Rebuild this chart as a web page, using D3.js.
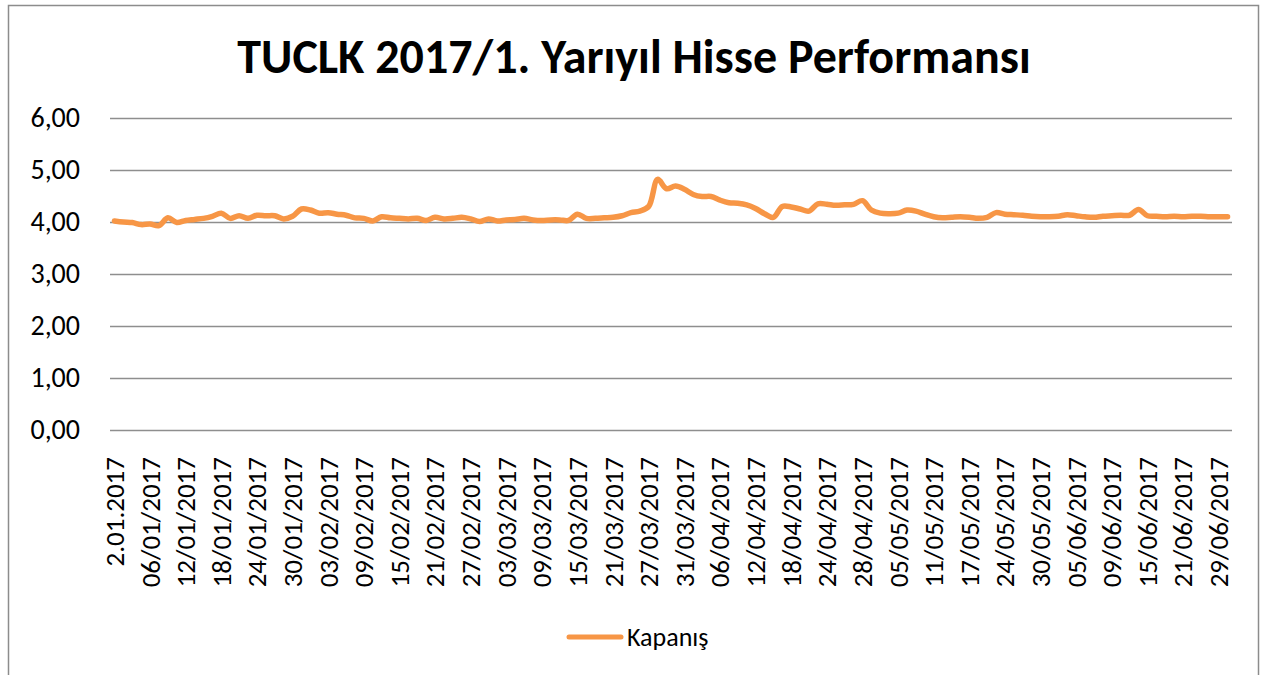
<!DOCTYPE html>
<html>
<head>
<meta charset="utf-8">
<script src="https://cdn.jsdelivr.net/npm/d3@7"></script>
<style>
  html, body { margin: 0; padding: 0; background: #fff; }
  svg { display: block; }
  text { font-family: Carlito, Lato, "Liberation Sans", sans-serif; fill: #000; }
</style>
</head>
<body>
<svg id="chart" width="1266" height="675"></svg>
<script>
const chartTitle = "TUCLK 2017/1. Yarıyıl Hisse Performansı";
const seriesName = "Kapanış";

const dates = [
  "2.01.2017","03/01/2017","04/01/2017","05/01/2017","06/01/2017","09/01/2017","10/01/2017","11/01/2017","12/01/2017","13/01/2017",
  "16/01/2017","17/01/2017","18/01/2017","19/01/2017","20/01/2017","23/01/2017","24/01/2017","25/01/2017","26/01/2017","27/01/2017",
  "30/01/2017","31/01/2017",
  "01/02/2017","02/02/2017","03/02/2017","06/02/2017","07/02/2017","08/02/2017","09/02/2017","10/02/2017","13/02/2017","14/02/2017",
  "15/02/2017","16/02/2017","17/02/2017","20/02/2017","21/02/2017","22/02/2017","23/02/2017","24/02/2017","27/02/2017","28/02/2017",
  "01/03/2017","02/03/2017","03/03/2017","06/03/2017","07/03/2017","08/03/2017","09/03/2017","10/03/2017","13/03/2017","14/03/2017",
  "15/03/2017","16/03/2017","17/03/2017","20/03/2017","21/03/2017","22/03/2017","23/03/2017","24/03/2017","27/03/2017","28/03/2017",
  "29/03/2017","30/03/2017","31/03/2017",
  "03/04/2017","04/04/2017","05/04/2017","06/04/2017","07/04/2017","10/04/2017","11/04/2017","12/04/2017","13/04/2017","14/04/2017",
  "17/04/2017","18/04/2017","19/04/2017","20/04/2017","21/04/2017","24/04/2017","25/04/2017","26/04/2017","27/04/2017","28/04/2017",
  "02/05/2017","03/05/2017","04/05/2017","05/05/2017","08/05/2017","09/05/2017","10/05/2017","11/05/2017","12/05/2017","15/05/2017",
  "16/05/2017","17/05/2017","18/05/2017","22/05/2017","23/05/2017","24/05/2017","25/05/2017","26/05/2017","29/05/2017","30/05/2017",
  "31/05/2017",
  "01/06/2017","02/06/2017","05/06/2017","06/06/2017","07/06/2017","08/06/2017","09/06/2017","12/06/2017","13/06/2017","14/06/2017",
  "15/06/2017","16/06/2017","19/06/2017","20/06/2017","21/06/2017","22/06/2017","23/06/2017","28/06/2017","29/06/2017","30/06/2017"
];

const closePrices = [
  4.02,4.00,3.99,3.95,3.96,3.93,4.08,3.99,4.03,4.05,
  4.07,4.11,4.17,4.07,4.12,4.07,4.13,4.12,4.12,4.06,
  4.11,4.25,4.23,4.17,4.18,4.15,4.13,4.08,4.07,4.02,
  4.10,4.08,4.07,4.06,4.07,4.03,4.09,4.06,4.07,4.09,
  4.06,4.01,4.06,4.02,4.04,4.05,4.07,4.04,4.03,4.04,
  4.04,4.03,4.15,4.07,4.07,4.08,4.09,4.12,4.18,4.21,
  4.30,4.82,4.64,4.69,4.63,4.53,4.49,4.49,4.42,4.37,
  4.36,4.33,4.26,4.16,4.09,4.30,4.29,4.25,4.21,4.35,
  4.34,4.32,4.33,4.34,4.41,4.23,4.17,4.16,4.17,4.23,
  4.21,4.15,4.10,4.08,4.09,4.10,4.09,4.07,4.09,4.18,
  4.15,4.14,4.13,4.11,4.10,4.10,4.11,4.14,4.12,4.10,
  4.09,4.11,4.12,4.13,4.13,4.24,4.12,4.11,4.10,4.11,
  4.10,4.11,4.11,4.10,4.10,4.10
];

const yTicks = [0, 1, 2, 3, 4, 5, 6];
const xLabelStep = 4;

const W = 1266, H = 675;
const plot = { left: 110, right: 1232, top: 118, bottom: 430 };
const lineColor = "#F79646";
const gridColor = "#8E8E8E";

const svg = d3.select("#chart");

// chart frame
svg.append("rect")
  .attr("x", 8.5).attr("y", 5.5)
  .attr("width", 1250).attr("height", 720)
  .attr("fill", "#fff").attr("stroke", "#8C8C8C").attr("stroke-width", 1.5);

// title
svg.append("text")
  .attr("x", 634).attr("y", 73)
  .attr("text-anchor", "middle")
  .attr("font-weight", "bold")
  .attr("font-size", 48)
  .text(chartTitle);

const x = d3.scaleBand().domain(dates).range([plot.left, plot.right]).paddingInner(0).paddingOuter(0);
const y = d3.scaleLinear().domain([0, 6]).range([plot.bottom, plot.top]);
const cx = d => x(d) + x.bandwidth() / 2;

const locale = d3.formatLocale({ decimal: ",", thousands: ".", grouping: [3], currency: ["", "₺"] });
const fmt = locale.format(".2f");

// gridlines + y labels
const yAxis = d3.axisLeft(y).tickValues(yTicks).tickFormat(fmt)
  .tickSize(-(plot.right - plot.left)).tickPadding(30);
const gy = svg.append("g").attr("transform", `translate(${plot.left},0)`).call(yAxis);
gy.select(".domain").remove();
gy.selectAll(".tick line").attr("stroke", gridColor).attr("stroke-width", 1.6);
gy.selectAll(".tick text")
  .attr("font-size", 28)
  .attr("font-family", "Carlito, Lato, 'Liberation Sans', sans-serif")
  .attr("fill", "#000");

// x labels
const xAxis = d3.axisBottom(x)
  .tickValues(dates.filter((d, i) => i % xLabelStep === 0))
  .tickSize(0).tickPadding(0);
const gx = svg.append("g").attr("transform", `translate(0,${plot.bottom})`).call(xAxis);
gx.select(".domain").remove();
gx.selectAll(".tick text")
  .attr("font-size", 27)
  .attr("font-family", "Carlito, Lato, 'Liberation Sans', sans-serif")
  .attr("fill", "#000")
  .attr("text-anchor", "end")
  .attr("transform", "translate(0,27) rotate(-90)")
  .attr("x", 0).attr("y", 0).attr("dy", "0.35em");

// series line
const line = d3.line()
  .x((d, i) => cx(dates[i]))
  .y(d => y(d))
  .curve(d3.curveCatmullRom.alpha(0.5));
svg.append("path")
  .datum(closePrices)
  .attr("fill", "none")
  .attr("stroke", lineColor)
  .attr("stroke-width", 5.5)
  .attr("stroke-linejoin", "round")
  .attr("stroke-linecap", "round")
  .attr("d", line);

// legend
const lg = svg.append("g");
lg.append("line")
  .attr("x1", 569).attr("x2", 621).attr("y1", 637).attr("y2", 637)
  .attr("stroke", lineColor).attr("stroke-width", 5).attr("stroke-linecap", "round");
lg.append("text")
  .attr("x", 627).attr("y", 637).attr("dy", "0.35em")
  .attr("font-size", 26)
  .text(seriesName);
</script>
</body>
</html>
